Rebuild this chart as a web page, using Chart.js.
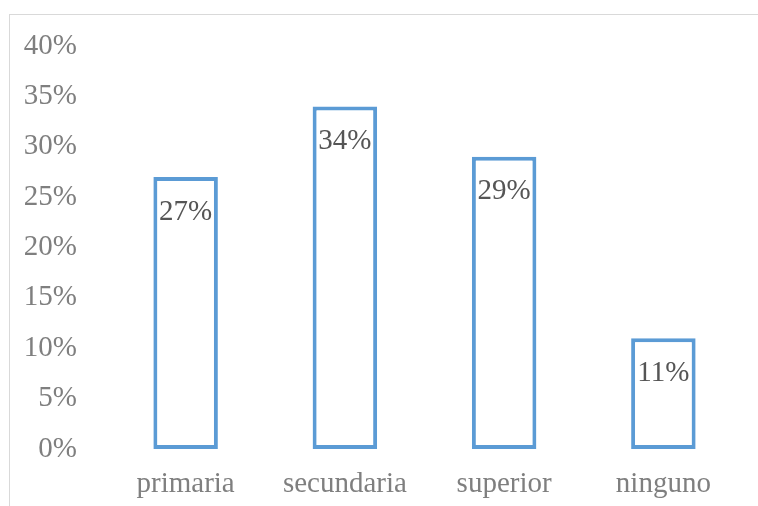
<!DOCTYPE html>
<html>
<head>
<meta charset="utf-8">
<script src="https://cdn.jsdelivr.net/npm/chart.js@4/dist/chart.umd.min.js"></script>
<style>
  html, body { margin: 0; padding: 0; background: #fff; }
  #frame {
    position: absolute; left: 9px; top: 14px;
    width: 749px; height: 492px;
    border-left: 1px solid #d9d9d9; border-top: 1px solid #d9d9d9;
  }
  canvas { display: block; }
</style>
</head>
<body>
<div id="frame"><canvas id="nivel" width="749" height="492"></canvas></div>
<script>
const categorias = ['primaria', 'secundaria', 'superior', 'ninguno']
const porcentajes = [27, 34, 29, 11]
const ticksY = [0, 5, 10, 15, 20, 25, 30, 35, 40]

const serif = '"Liberation Serif", "Times New Roman", serif'

// etiqueta de valor dentro de cada barra, arriba
const etiquetas = {
  id: 'etiquetas',
  afterDatasetsDraw(chart) {
    const { ctx } = chart
    const meta = chart.getDatasetMeta(0)
    ctx.save()
    ctx.font = '29px ' + serif
    ctx.fillStyle = '#555555'
    ctx.textAlign = 'center'
    ctx.textBaseline = 'middle'
    meta.data.forEach((bar, i) => {
      ctx.fillText(porcentajes[i] + '%', bar.x, bar.y + 35)
    })
    ctx.restore()
  }
}

new Chart(document.getElementById('nivel'), {
  type: 'bar',
  data: {
    labels: categorias,
    datasets: [{
      data: porcentajes,
      backgroundColor: '#ffffff',
      borderColor: '#5B9BD5',
      borderWidth: 4,
      borderSkipped: false,
      categoryPercentage: 1,
      barPercentage: 0.405
    }]
  },
  options: {
    responsive: false,
    animation: false,
    layout: { padding: { top: 31, right: 16, left: 0, bottom: 0 } },
    plugins: { legend: { display: false }, tooltip: { enabled: false } },
    scales: {
      x: {
        grid: { display: false, drawTicks: false },
        border: { display: false },
        ticks: { color: '#7f7f7f', font: { family: serif, size: 29 }, padding: 18 },
        afterFit: s => { s.height = 58 }
      },
      y: {
        min: 0,
        max: 40,
        afterBuildTicks: s => { s.ticks = ticksY.map(v => ({ value: v })) },
        grid: { display: false, drawTicks: false },
        border: { display: false },
        ticks: { color: '#7f7f7f', font: { family: serif, size: 29 }, padding: 29, callback: v => v + '%' },
        afterFit: s => {
          s.width = 96
          s.paddingTop = 0
          s.paddingBottom = 0
        }
      }
    }
  },
  plugins: [etiquetas]
})
</script>
</body>
</html>
